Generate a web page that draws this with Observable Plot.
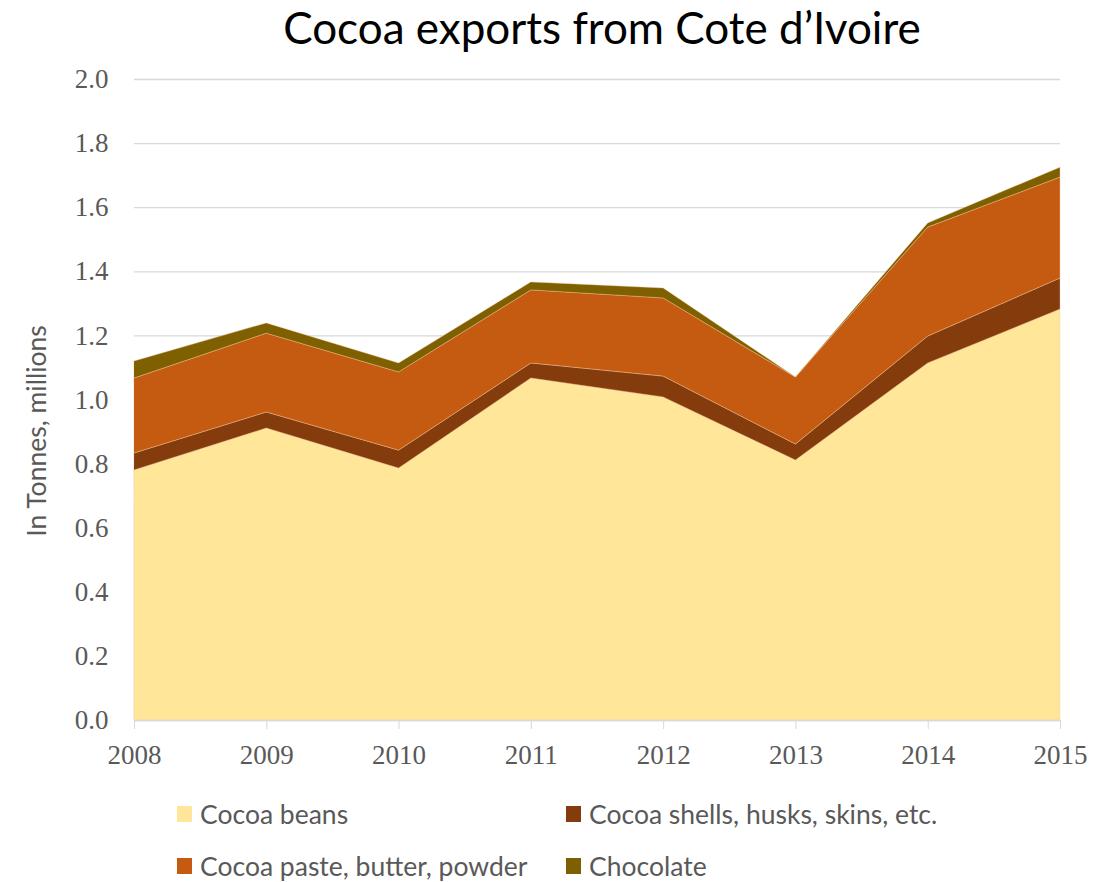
<!DOCTYPE html>
<html>
<head>
<meta charset="utf-8">
<script src="https://cdn.jsdelivr.net/npm/d3@7"></script>
<script src="https://cdn.jsdelivr.net/npm/@observablehq/plot@0.6"></script>
<style>
  html, body { margin: 0; padding: 0; background: #fff; }
  #wrap { position: relative; width: 1115px; height: 882px; overflow: hidden; background: #fff; }
  #title { position: absolute; left: 0; top: 1px; width: 1204px; text-align: center; font-family: Lato, "Noto Sans", sans-serif; font-size: 44px; color: #000; z-index: 2; }
  #ylabel { position: absolute; left: 36px; top: 431px; transform: translate(-50%, -50%) rotate(-90deg); white-space: nowrap; font-family: Lato, "Noto Sans", sans-serif; font-size: 26.5px; color: #595959; z-index: 2; }
  #chart { position: absolute; left: 0; top: 60px; z-index: 1; }
  .leg { position: absolute; font-family: Lato, "Noto Sans", sans-serif; font-size: 26.5px; color: #595959; white-space: nowrap; display: flex; align-items: center; z-index: 2; }
  .leg span.sw { display: inline-block; width: 15px; height: 16px; margin-right: 8px; }
</style>
</head>
<body>
<div id="wrap">
  <div id="chart"></div>
  <div id="title">Cocoa exports from Cote d’Ivoire</div>
  <div id="ylabel">In Tonnes, millions</div>
</div>
<script>
const years = [2008, 2009, 2010, 2011, 2012, 2013, 2014, 2015];
const cocoaBeans = [0.780, 0.911, 0.786, 1.067, 1.008, 0.811, 1.114, 1.282];
const cocoaShells = [0.053, 0.050, 0.056, 0.047, 0.065, 0.050, 0.084, 0.097];
const cocoaPaste = [0.234, 0.246, 0.244, 0.228, 0.244, 0.209, 0.340, 0.315];
const chocolate = [0.053, 0.032, 0.028, 0.025, 0.031, 0.000, 0.013, 0.031];
const seriesNames = ["Cocoa beans", "Cocoa shells, husks, skins, etc.", "Cocoa paste, butter, powder", "Chocolate"];
const seriesColors = ["#FFE699", "#843C0C", "#C55A11", "#7F6000"];
const yTicks = [0, 0.2, 0.4, 0.6, 0.8, 1.0, 1.2, 1.4, 1.6, 1.8, 2.0];

const seriesValues = [cocoaBeans, cocoaShells, cocoaPaste, chocolate];
const data = [];
seriesNames.forEach((name, i) => {
  years.forEach((yr, j) => data.push({year: yr, series: name, value: seriesValues[i][j]}));
});

const chart = Plot.plot({
  width: 1115,
  height: 730,
  marginLeft: 134,
  marginRight: 55,
  marginTop: 19,
  marginBottom: 70,
  style: {background: "transparent", overflow: "visible"},
  x: {domain: [2008, 2015]},
  y: {domain: [0, 2]},
  color: {domain: seriesNames, range: seriesColors},
  marks: [
    Plot.ruleY(yTicks, {stroke: "#d9d9d9", strokeWidth: 1.3}),
    Plot.areaY(data, {x: "year", y: "value", fill: "series", stroke: "#f4c79a", strokeWidth: 0.4, order: seriesNames}),
    Plot.ruleY([0], {stroke: "#d9d9d9", strokeWidth: 1.3}),
    Plot.axisX({ticks: years, tickFormat: "d", tickSize: 9, stroke: "#d9d9d9", tickPadding: 15, fontSize: 27, fontFamily: "Liberation Serif, serif", color: "#595959", label: null}),
    Plot.axisY({ticks: yTicks, tickFormat: ".1f", tickSize: 0, tickPadding: 26, fontSize: 27, fontFamily: "Liberation Serif, serif", color: "#595959", label: null})
  ]
});
document.getElementById("chart").appendChild(chart);

// legend
const legPos = [[177, 815], [566, 815], [177, 867], [566, 867]];
const wrap = document.getElementById("wrap");
seriesNames.forEach((name, i) => {
  const d = document.createElement("div");
  d.className = "leg";
  d.style.left = legPos[i][0] + "px";
  d.style.top = (legPos[i][1] - 17) + "px";
  d.innerHTML = `<span class="sw" style="background:${seriesColors[i]}"></span>${name}`;
  wrap.appendChild(d);
});
</script>
</body>
</html>
